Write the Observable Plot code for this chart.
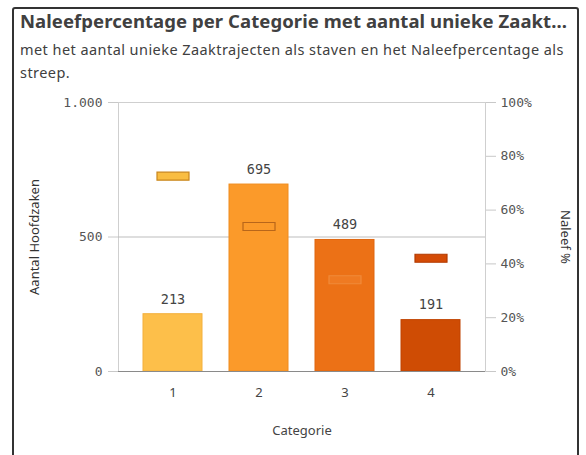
<!DOCTYPE html>
<html>
<head>
<meta charset="utf-8">
<script src="https://cdn.jsdelivr.net/npm/d3@7"></script>
<script src="https://cdn.jsdelivr.net/npm/@observablehq/plot@0.6"></script>
<style>
  html, body { margin: 0; padding: 0; background: #fff; }
  body { width: 586px; height: 455px; position: relative; overflow: hidden; font-family: "Noto Sans", sans-serif; }
  #frame { position: absolute; left: 12px; top: 7px; width: 567px; height: 470px; border: 2px solid #333; border-radius: 3px; box-sizing: border-box; }
  #title { position: absolute; left: 20px; top: 8px; font-size: 18.5px; font-weight: bold; color: #404040; white-space: nowrap; letter-spacing: 0.07px; }
  #subtitle { position: absolute; left: 20px; top: 38px; width: 556px; font-size: 14.5px; line-height: 23px; color: #404040; letter-spacing: 0.44px; }
  #chart { position: absolute; left: 0; top: 0; }
</style>
</head>
<body>
<div id="frame"></div>
<div id="title">Naleefpercentage per Categorie met aantal unieke Zaakt...</div>
<div id="subtitle">met het aantal unieke Zaaktrajecten als staven en het Naleefpercentage als streep.</div>
<div id="chart"></div>
<script>
const categories = ["1", "2", "3", "4"];
const aantal = [213, 695, 489, 191];
const naleef = [72.6, 53.9, 34.1, 42.1];
const barColors = ["#fdbf4a", "#fb9a2a", "#ec7116", "#cf4c04"];
const barStrokes = ["#f3b03c", "#f08c1e", "#e0660f", "#c04300"];
const markFill = ["#f9bd42", "#fb9a2a", "#ef7a22", "#d44b06"];
const markStroke = ["#c9861d", "#b8661a", "#f08a3a", "#b23a00"];
const leftTicks = [0, 500, 1000];
const rightTicks = [0, 20, 40, 60, 80, 100];

const data = categories.map((c, i) => ({
  cat: c, n: aantal[i], pct: naleef[i],
  fill: barColors[i], stroke: barStrokes[i], mf: markFill[i], ms: markStroke[i]
}));

const rectSymbol = { draw(ctx) { ctx.rect(-16, -4, 32, 8); } };
const mono = "DejaVu Sans Mono, monospace";

const chart = Plot.plot({
  width: 586,
  height: 455,
  marginTop: 102,
  marginBottom: 84,
  marginLeft: 118,
  marginRight: 101,
  style: { fontFamily: "Noto Sans, sans-serif", background: "transparent" },
  x: { domain: categories, paddingInner: 0.31, paddingOuter: 0.27, label: null },
  y: { domain: [0, 1000], label: null },
  marks: [
    Plot.frame({ stroke: "#cfcfcf" }),
    Plot.ruleY([500], { stroke: "#bdbdbd" }),
    Plot.barY(data, { x: "cat", y: "n", fill: "fill", stroke: "stroke", strokeWidth: 1 }),
    Plot.ruleY([0], { stroke: "#8a8a8a" }),
    Plot.text(data, { x: "cat", y: "n", text: d => String(d.n), dy: -15, fontSize: 13.5, fontFamily: mono, fill: "#444" }),
    Plot.dot(data, { x: "cat", y: d => d.pct * 10, symbol: rectSymbol, fill: "mf", stroke: "ms", strokeWidth: 1.2 }),
    Plot.axisX({ tickSize: 0, tickPadding: 16, fontSize: 13, fill: "#444", label: "Categorie", labelAnchor: "center", labelArrow: "none", labelOffset: 63 }),
    Plot.axisY(leftTicks, { anchor: "left", tickSize: 10, tickPadding: 6, stroke: "#c8c8c8", fontSize: 13, fontFamily: mono, fill: "#555",
      tickFormat: d => d === 1000 ? "1.000" : String(d), label: null }),
    Plot.axisY(rightTicks.map(v => v * 10), { anchor: "right", tickSize: 10, tickPadding: 5, stroke: "#c8c8c8", fontSize: 13, fontFamily: mono, fill: "#555",
      tickFormat: d => (d / 10) + "%", label: null }),
    Plot.text(["Aantal Hoofdzaken"], { frameAnchor: "left", dx: -84, rotate: -90, textAnchor: "middle", fontSize: 13, fill: "#333" }),
    Plot.text(["Naleef %"], { frameAnchor: "right", dx: 80, rotate: 90, textAnchor: "middle", fontSize: 13, fill: "#333" })
  ]
});
document.getElementById("chart").appendChild(chart);
</script>
</body>
</html>
